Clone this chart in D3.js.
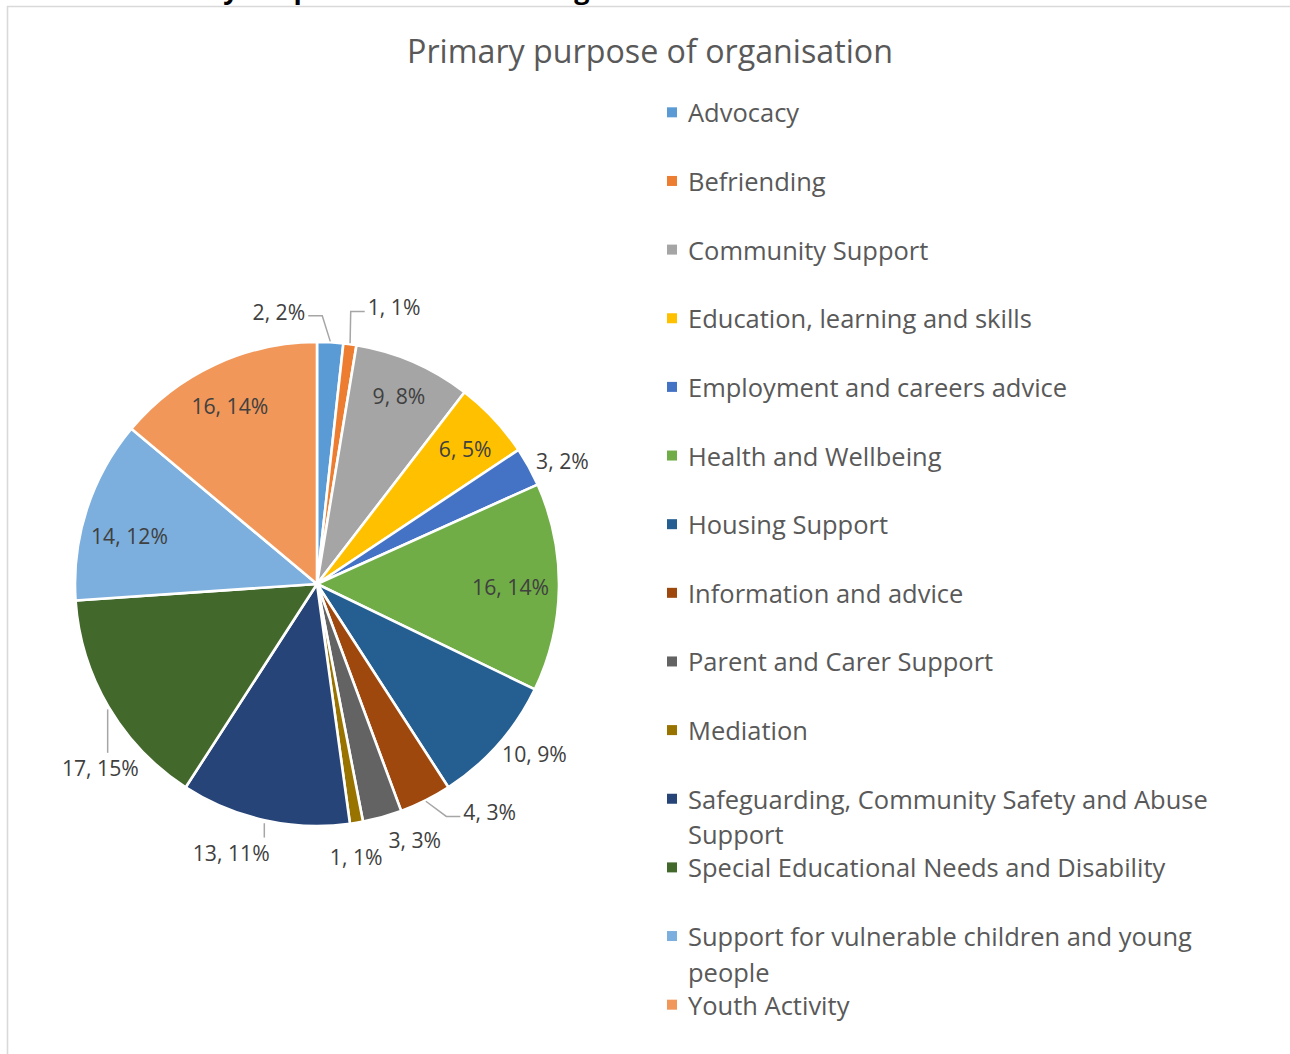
<!DOCTYPE html>
<html>
<head>
<meta charset="utf-8">
<script src="https://cdn.jsdelivr.net/npm/d3@7"></script>
<style>
  html, body { margin: 0; padding: 0; background: #ffffff; }
  svg { display: block; }
</style>
</head>
<body>
<svg id="chart" width="1290" height="1054"></svg>
<script>
// ---- data ----
const categories = [
  "Advocacy",
  "Befriending",
  "Community Support",
  "Education, learning and skills",
  "Employment and careers advice",
  "Health and Wellbeing",
  "Housing Support",
  "Information and advice",
  "Parent and Carer Support",
  "Mediation",
  "Safeguarding, Community Safety and Abuse Support",
  "Special Educational Needs and Disability",
  "Support for vulnerable children and young people",
  "Youth Activity"
];
const counts = [2, 1, 9, 6, 3, 16, 10, 4, 3, 1, 13, 17, 14, 16];
const percentLabels = ["2%", "1%", "8%", "5%", "2%", "14%", "9%", "3%", "3%", "1%", "11%", "15%", "12%", "14%"];
const sliceColors = [
  "#5B9BD5", "#ED7D31", "#A5A5A5", "#FFC000", "#4472C4", "#70AD47", "#255E91",
  "#9E480E", "#636363", "#997300", "#264478", "#43682B", "#7CAFDD", "#F1975A"
];
const chartTitle = "Primary purpose of organisation";

// ---- layout ----
const W = 1290, H = 1054;
const cx = 317, cy = 584, R = 242;
const FONT = "'Open Sans', 'Noto Sans', 'DejaVu Sans', sans-serif";
const TEXT_GREY = "#595959";
const LABEL_GREY = "#404040";

// label placement per slice: angle offset (deg) from slice middle, radius factor, leader side
const labelPlacement = [
  { da: -11.1, k: 1.136, leader: "right" },
  { da: 7.7,   k: 1.19,  leader: "left" },
  { da: 0,     k: 0.85,  leader: null },
  { da: 0.6,   k: 0.83,  leader: null },
  { da: 2.2,   k: 1.136, leader: null },
  { da: 0,     k: 0.80,  leader: null },
  { da: -3.5,  k: 1.14,  leader: null },
  { da: -10.6, k: 1.18,  leader: "left" },
  { da: -5.3,  k: 1.13,  leader: null },
  { da: 1.2,   k: 1.136, leader: null },
  { da: 5.2,   k: 1.165, leader: "top" },
  { da: -9.8,  k: 1.174, leader: "top" },
  { da: -3.6,  k: 0.80,  leader: null },
  { da: -1,    k: 0.82,  leader: null }
];

const svg = d3.select("#chart");

// size a font so that a sample string spans the wanted width
function fitFontSize(sample, targetWidth, weight) {
  const t = svg.append("text")
    .attr("font-family", FONT)
    .attr("font-size", 100)
    .attr("font-weight", weight || "normal")
    .text(sample);
  const w = t.node().getComputedTextLength();
  t.remove();
  return 100 * targetWidth / w;
}

const titleSize = fitFontSize(chartTitle, 486);
const legendSize = fitFontSize("Safeguarding, Community Safety and Abuse", 520);
const labelSize = fitFontSize("13, 11%", 77);

// ---- frame ----
svg.append("line")
  .attr("x1", 7).attr("x2", W).attr("y1", 6.5).attr("y2", 6.5)
  .attr("stroke", "#d9d9d9").attr("stroke-width", 1.6);
svg.append("line")
  .attr("x1", 7.5).attr("x2", 7.5).attr("y1", 6).attr("y2", H)
  .attr("stroke", "#d9d9d9").attr("stroke-width", 1.6);

// tails of the page heading that sits above the chart frame
const headingBits = [{ ch: "y", x: 231 }, { ch: "p", x: 302 }, { ch: "g", x: 582 }];
svg.append("g").selectAll("text").data(headingBits).join("text")
  .attr("x", d => d.x).attr("y", -1)
  .attr("text-anchor", "middle")
  .attr("font-family", FONT).attr("font-weight", "bold")
  .attr("font-size", 27).attr("fill", "#000")
  .text(d => d.ch);

// ---- title ----
svg.append("text")
  .attr("x", 650).attr("y", 50)
  .attr("text-anchor", "middle")
  .attr("dominant-baseline", "central")
  .attr("font-family", FONT)
  .attr("font-size", titleSize)
  .attr("fill", TEXT_GREY)
  .text(chartTitle);

// ---- pie ----
const pie = d3.pie().sort(null).value(d => d)(counts);
const arc = d3.arc().innerRadius(0).outerRadius(R);

const gPie = svg.append("g").attr("transform", `translate(${cx},${cy})`);
gPie.selectAll("path").data(pie).join("path")
  .attr("d", arc)
  .attr("fill", (d, i) => sliceColors[i])
  .attr("stroke", "#ffffff")
  .attr("stroke-width", 2.6)
  .attr("stroke-linejoin", "round");

// ---- data labels ----
const gLabels = svg.append("g");
const gLeaders = svg.append("g");
const toRad = Math.PI / 180;

pie.forEach((d, i) => {
  const p = labelPlacement[i];
  const mid = (d.startAngle + d.endAngle) / 2;
  const a = mid + p.da * toRad;
  const tx = cx + R * p.k * Math.sin(a);
  const ty = cy - R * p.k * Math.cos(a);
  const t = gLabels.append("text")
    .attr("x", tx).attr("y", ty)
    .attr("text-anchor", "middle")
    .attr("dominant-baseline", "central")
    .attr("font-family", FONT)
    .attr("font-size", labelSize)
    .attr("fill", LABEL_GREY)
    .text(`${counts[i]}, ${percentLabels[i]}`);

  if (p.leader) {
    const bb = t.node().getBBox();
    const ex = cx + (R + 1) * Math.sin(mid);
    const ey = cy - (R + 1) * Math.cos(mid);
    let pts;
    if (p.leader === "right") {
      const end = [bb.x + bb.width + 3, ty + 4];
      pts = [[ex, ey], [end[0] + 14, end[1]], end];
    } else if (p.leader === "left") {
      const end = [bb.x - 3, ty + 5];
      pts = [[ex, ey], [end[0] - 14, end[1]], end];
    } else {
      pts = [[ex, ey + 2], [ex, ty - 15]];
    }
    gLeaders.append("path")
      .attr("d", d3.line()(pts))
      .attr("fill", "none")
      .attr("stroke", "#a6a6a6")
      .attr("stroke-width", 1.5);
  }
});

// ---- legend ----
const legendY = d3.scaleBand().domain(categories).range([78, 1039]);
const legendMaxWidth = 535;
const measure = svg.append("text")
  .attr("font-family", FONT).attr("font-size", legendSize);

function wrapLines(label) {
  const words = label.split(" ");
  const lines = [];
  let cur = "";
  words.forEach(w => {
    const trial = cur ? cur + " " + w : w;
    measure.text(trial);
    if (cur && measure.node().getComputedTextLength() > legendMaxWidth) {
      lines.push(cur);
      cur = w;
    } else {
      cur = trial;
    }
  });
  if (cur) lines.push(cur);
  return lines;
}

const gLegend = svg.append("g");
categories.forEach((c, i) => {
  const yc = legendY(c) + legendY.bandwidth() / 2;
  gLegend.append("rect")
    .attr("x", 667).attr("y", yc - 5)
    .attr("width", 10).attr("height", 10)
    .attr("fill", sliceColors[i]);
  const lines = wrapLines(c);
  const t = gLegend.append("text")
    .attr("font-family", FONT)
    .attr("font-size", legendSize)
    .attr("fill", TEXT_GREY);
  lines.forEach((ln, j) => {
    t.append("tspan")
      .attr("x", 688)
      .attr("y", yc + j * 35.5)
      .attr("dominant-baseline", "central")
      .text(ln);
  });
});
measure.remove();
</script>
</body>
</html>
